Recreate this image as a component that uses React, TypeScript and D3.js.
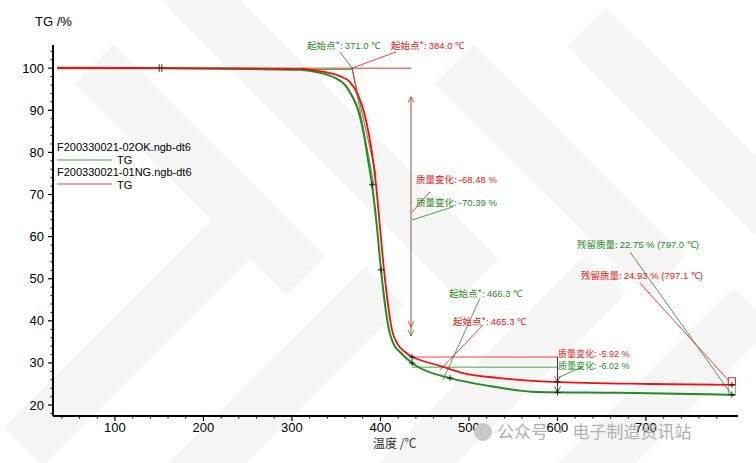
import React from 'react';
import * as d3 from 'd3';

// TG curves (temperature °C, mass %)
const okTemp = [34.5, 151, 252.6, 309, 331.7, 348.7, 360, 367.9, 374.7, 381.4, 386, 390.5, 396.1, 400.6, 405.2, 409.7, 415.3, 422.1, 435.7, 444.7, 478.6, 523.8, 576.9, 670.7, 800.7];
const okMass = [100, 100, 99.8, 99.6, 98.9, 97.7, 96, 93.4, 90.1, 84.1, 78.2, 72.3, 62.1, 52.1, 43.8, 37.8, 34.3, 32.6, 30, 28.8, 26.4, 24.5, 23.1, 22.9, 22.4];
const ngTemp = [34.5, 309, 331.7, 354.3, 365.6, 374.7, 381.4, 387.1, 391.6, 395, 399.5, 404, 408.6, 413.1, 419.9, 427.8, 435.7, 444.7, 467.3, 493.3, 535.1, 595, 704.6, 800.7];
const ngMass = [100.1, 99.9, 99.3, 98.1, 96.7, 93.6, 89.6, 84.1, 78.2, 72.3, 62.1, 52.1, 43.8, 37.8, 34.3, 32.6, 31.4, 30.7, 29.3, 27.6, 26.4, 25.5, 25, 24.8];

const xTicks = [100, 200, 300, 400, 500, 600, 700];
const yTicks = [20, 30, 40, 50, 60, 70, 80, 90, 100];

const legendNames = ['F200330021-02OK.ngb-dt6', 'F200330021-01NG.ngb-dt6'];

const GREEN = '#1e8c1e';
const RED = '#f01010';
const CJK = '"Noto Sans CJK SC", "Liberation Sans", Arial, sans-serif';
const SANS = '"Liberation Sans", Arial, sans-serif';

const App: React.FC = () => {
  const width = 756;
  const height = 463;
  const x = d3.scaleLinear().domain([30, 804]).range([53, 738]);
  const y = d3.scaleLinear().domain([17.4, 105.5]).range([416, 45]);

  const line = d3.line<[number, number]>()
    .x(d => x(d[0]))
    .y(d => y(d[1]))
    .curve(d3.curveMonotoneX);

  const okPts = okTemp.map((t, i) => [t, okMass[i]] as [number, number]);
  const ngPts = ngTemp.map((t, i) => [t, ngMass[i]] as [number, number]);

  const xMinor = d3.range(40, 801, 20).filter(v => v % 100 !== 0);
  const yMinor = d3.range(18, 105, 2).filter(v => v % 10 !== 0);

  const seg = (t1: number, v1: number, t2: number, v2: number, color: string, w = 0.8) => (
    <line x1={x(t1)} y1={y(v1)} x2={x(t2)} y2={y(v2)} stroke={color} strokeWidth={w} />
  );

  const label = (t: number, v: number, head: string, val: string, color: string, size = 9.5) => (
    <text x={x(t)} y={y(v)} fontSize={size} fill={color} fontFamily={CJK}>
      {head}<tspan fontFamily={SANS}>{val}</tspan>
    </text>
  );

  const arrowHead = (t: number, v: number, dir: 1 | -1, color: string) => {
    const px = x(t), py = y(v);
    return <path d={`M${px - 3},${py + 6 * dir} L${px},${py} L${px + 3},${py + 6 * dir}`} fill="none" stroke={color} strokeWidth={0.8} />;
  };

  const crosses: Array<[number, number]> = [
    [390.5, 72.3], [400.6, 52.1], [435.7, 31.4], [435.7, 30], [478.6, 26.4], [600, 25.5], [600, 23], [797, 22.5], [797, 24.8]
  ];

  // faint watermark bands
  const bands: Array<[number, number, number, number]> = [
    [140, 330, 330, 55], [200, 170, 300, 55], [250, 420, 380, 55], [330, 130, 420, 55],
    [500, 380, 300, 55], [560, 170, 300, 55], [640, 420, 320, 55], [700, 140, 320, 55]
  ];

  return (
    <svg width={width} height={height} style={{ position: 'fixed', left: 0, top: 0, background: '#fff' }}>
      <g>
        {bands.map((b, i) => (
          <rect key={i} x={b[0] - b[3] / 2} y={b[1] - b[2] / 2} width={b[3]} height={b[2]}
            fill="#f5f5f5" transform={`rotate(${i % 2 === 0 ? 45 : -45} ${b[0]} ${b[1]})`} />
        ))}
      </g>

      {/* axes */}
      <line x1={53} y1={45} x2={53} y2={416} stroke="#000" strokeWidth={2} />
      <line x1={53} y1={416} x2={738} y2={416} stroke="#000" strokeWidth={2} />
      {yTicks.map(v => (
        <g key={v}>
          <line x1={48} x2={53} y1={y(v)} y2={y(v)} stroke="#000" strokeWidth={1.2} />
          <text x={44} y={y(v) + 4.5} textAnchor="end" fontSize={13} fontFamily={SANS}>{v}</text>
        </g>
      ))}
      {yMinor.map(v => <line key={v} x1={50.5} x2={53} y1={y(v)} y2={y(v)} stroke="#000" />)}
      {xTicks.map(v => (
        <g key={v}>
          <line x1={x(v)} x2={x(v)} y1={416} y2={421} stroke="#000" strokeWidth={1.2} />
          <text x={x(v)} y={432} textAnchor="middle" fontSize={13} fontFamily={SANS}>{v}</text>
        </g>
      ))}
      {xMinor.map(v => <line key={v} x1={x(v)} x2={x(v)} y1={416} y2={418.5} stroke="#000" />)}
      <text x={35} y={26} fontSize={13} fontFamily={SANS}>TG /%</text>
      <text x={373} y={448} fontSize={12} fontFamily={CJK} fill="#333">温度 /℃</text>

      {/* onset 1 */}
      {seg(309, 99.7, 368, 99.7, GREEN, 0.8)}
      {seg(309, 100, 435, 100, '#d23a20', 1)}
      {seg(367.9, 100, 392.7, 72.3, GREEN)}
      {seg(367.9, 100, 395, 74.6, RED)}
      {seg(354.3, 103.85, 367.9, 100, GREEN)}
      {seg(417.6, 103.85, 367.9, 100, RED)}
      {label(317, 104.6, '起始点*: ', '371.0 ℃', GREEN)}
      {label(412, 104.6, '起始点*: ', '384.0 ℃', RED)}

      {/* mass change 1 */}
      {seg(434.5, 93.2, 434.5, 36.4, '#8a5a30', 1)}
      {arrowHead(434.5, 93.2, 1, RED)}
      {arrowHead(434.5, 38.5, -1, RED)}
      {arrowHead(434.5, 36.4, -1, GREEN)}
      {seg(435.7, 65.85, 456, 70.6, RED)}
      {seg(435.7, 63.95, 481, 67, GREEN)}
      {label(440.2, 72.7, '质量变化: ', '-68.48 %', RED)}
      {label(440.2, 67.3, '质量变化: ', '-70.39 %', GREEN)}

      {/* onset 2 */}
      {seg(435.7, 31.4, 600, 31.4, RED)}
      {seg(435.7, 29, 600, 29, GREEN)}
      {seg(512.5, 45.4, 470.7, 25.95, GREEN)}
      {seg(516, 39, 467, 28.3, RED)}
      {label(477.5, 45.7, '起始点*: ', '466.3 ℃', GREEN)}
      {label(482, 39, '起始点*: ', '465.3 ℃', RED)}

      {/* mass change 2 */}
      {seg(600, 31.4, 600, 23, '#333', 1)}
      {arrowHead(600, 25.5, -1, RED)}
      {arrowHead(600, 23, -1, '#333')}
      {seg(600, 26.4, 629, 29.2, GREEN)}
      {label(600.6, 31.3, '质量变化: ', '-5.92 %', RED, 9)}
      {label(600.6, 28.6, '质量变化: ', '-6.02 %', GREEN, 9)}

      {/* residual */}
      {seg(682, 56.35, 797, 22.4, GREEN)}
      {seg(693, 49, 792.8, 25.95, RED)}
      {seg(793, 26.5, 793, 22.3, '#777')}
      {seg(801, 26.5, 801, 22.3, '#777')}
      <rect x={x(793)} y={y(26.5)} width={x(801) - x(793)} height={y(24.9) - y(26.5)} fill="none" stroke={RED} strokeWidth={0.8} />
      {label(622, 57.3, '残留质量: ', '22.75 % (797.0 ℃)', GREEN)}
      {label(626.6, 49.9, '残留质量: ', '24.93 % (797.1 ℃)', RED)}

      {/* curves */}
      <path d={line(okPts) || ''} fill="none" stroke={GREEN} strokeWidth={2} />
      <path d={line(ngPts) || ''} fill="none" stroke={RED} strokeWidth={1.8} />

      {/* markers */}
      {[150, 153].map(t => <line key={t} x1={x(t)} x2={x(t)} y1={y(100) - 4} y2={y(100) + 4} stroke="#222" strokeWidth={0.9} />)}
      {crosses.map(([t, v], i) => (
        <g key={i} stroke="#111" strokeWidth={0.9}>
          <line x1={x(t) - 3} x2={x(t) + 3} y1={y(v)} y2={y(v)} />
          <line x1={x(t)} x2={x(t)} y1={y(v) - 3} y2={y(v) + 3} />
        </g>
      ))}

      {/* legend */}
      <text x={57} y={151} fontSize={11} fontFamily={SANS}>{legendNames[0]}</text>
      <line x1={57} x2={112} y1={160} y2={160} stroke={GREEN} strokeWidth={0.8} />
      <text x={117} y={164} fontSize={11} fontFamily={SANS}>TG</text>
      <text x={57} y={176} fontSize={11} fontFamily={SANS}>{legendNames[1]}</text>
      <line x1={57} x2={112} y1={184} y2={184} stroke={RED} strokeWidth={0.8} />
      <text x={117} y={189} fontSize={11} fontFamily={SANS}>TG</text>

      {/* watermark */}
      <circle cx={483} cy={432} r={9} fill="#c8c8c8" />
      <text x={497} y={438} fontSize={17} fill="#b0b0b0" fontFamily={CJK}>公众号 · 电子制造资讯站</text>
    </svg>
  );
};

export default App;
